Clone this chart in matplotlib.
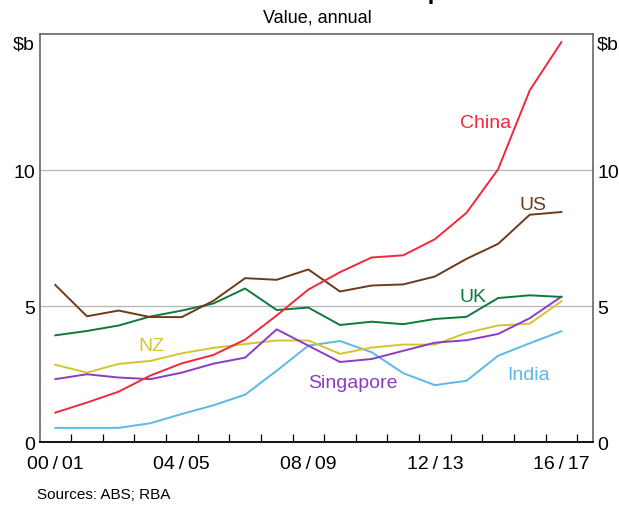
import matplotlib
matplotlib.use("Agg")

import matplotlib.pyplot as plt
from matplotlib.ticker import FixedLocator, NullFormatter

plt.rcParams["font.family"] = ["Liberation Sans", "DejaVu Sans"]

# ------------------------------------------------------------------ #
# Data ($b, financial years 2000/01 - 2016/17)                        #
# ------------------------------------------------------------------ #
years = ["00/01", "01/02", "02/03", "03/04", "04/05", "05/06", "06/07",
         "07/08", "08/09", "09/10", "10/11", "11/12", "12/13", "13/14",
         "14/15", "15/16", "16/17"]

china = [1.09, 1.46, 1.86, 2.45, 2.90, 3.21, 3.77, 4.66, 5.61, 6.25,
         6.79, 6.87, 7.46, 8.43, 10.03, 12.93, 14.70]
us = [5.78, 4.63, 4.84, 4.60, 4.60, 5.20, 6.03, 5.97, 6.35, 5.54,
      5.76, 5.80, 6.09, 6.74, 7.29, 8.36, 8.46]
uk = [3.93, 4.09, 4.29, 4.62, 4.84, 5.10, 5.65, 4.86, 4.95, 4.31,
      4.43, 4.34, 4.53, 4.61, 5.30, 5.40, 5.34]
nz = [2.85, 2.56, 2.88, 2.99, 3.27, 3.47, 3.61, 3.74, 3.74, 3.25,
      3.48, 3.59, 3.59, 4.02, 4.29, 4.36, 5.18]
singapore = [2.32, 2.50, 2.38, 2.32, 2.56, 2.89, 3.11, 4.15, 3.55, 2.95,
             3.06, 3.36, 3.66, 3.75, 3.98, 4.56, 5.35]
india = [0.53, 0.53, 0.53, 0.70, 1.04, 1.36, 1.75, 2.63, 3.55, 3.72,
         3.31, 2.54, 2.10, 2.26, 3.18, 3.64, 4.08]

# series: (values, colour, label, label x, label y)
SERIES = [
    (india, "#5cb8e8", "India", 14.95, 2.5),
    (nz, "#d4c430", "NZ", 3.05, 3.55),
    (singapore, "#8c3cc4", "Singapore", 9.4, 2.2),
    (uk, "#0c7a3a", "UK", 13.2, 5.35),
    (us, "#6e3a1c", "US", 15.1, 8.75),
    (china, "#f0283c", "China", 13.6, 11.75),
]

# ------------------------------------------------------------------ #
# Figure                                                              #
# ------------------------------------------------------------------ #
fig = plt.figure(figsize=(6.19, 5.10), dpi=100)
ax = fig.add_axes([39.5 / 619, 1 - 443.3 / 510, (593 - 39.5) / 619, (443.3 - 35) / 510])

x = list(range(len(years)))
for values, colour, label, lx, ly in SERIES:
    ax.plot(x, values, color=colour, linewidth=1.4, zorder=3)
    ax.text(lx, ly, label, color=colour, fontsize=14, ha="center", va="center")

ax.set_xlim(-0.5, 17.0)
ax.set_ylim(0, 15)

# horizontal gridlines
for level in (5, 10):
    ax.axhline(level, color="#b4b4b4", linewidth=0.9, zorder=1)

# x ticks: labels every 4 years, inward tick marks at year boundaries
ax.set_xticks([0, 4, 8, 12, 16])
ax.set_xticklabels([years[i].replace("/", "\u2009/\u2009") for i in (0, 4, 8, 12, 16)],
                   fontsize=14)
ax.xaxis.set_minor_locator(FixedLocator([i + 0.5 for i in range(17)]))
ax.xaxis.set_minor_formatter(NullFormatter())
ax.tick_params(axis="x", which="major", length=0, pad=9)
ax.tick_params(axis="x", which="minor", direction="in", length=6, width=0.9, color="black")

# y ticks on both sides, no tick marks
ax.set_yticks([0, 5, 10])
ax.set_yticklabels(["0", "5", "10"], fontsize=14)
ax.tick_params(axis="y", which="both", length=0, pad=3, labelright=True, right=True)

for side in ("top", "left", "right"):
    ax.spines[side].set_color("#666666")
    ax.spines[side].set_linewidth(1.2)
ax.spines["bottom"].set_color("black")
ax.spines["bottom"].set_linewidth(1.3)

# unit labels at top of both axes
ax.text(-0.008, 0.997, "$b", transform=ax.transAxes, ha="right", va="top", fontsize=14)
ax.text(1.007, 0.997, "$b", transform=ax.transAxes, ha="left", va="top", fontsize=14)

# title (mostly outside canvas, as in the source) and subtitle
fig.text(0.5 + 9 / 619, 1.0 + 1.0 / 510, "Australia's Education Exports", ha="center",
         va="baseline", fontsize=17, fontweight="bold")
fig.text(317 / 619, 1 - 18 / 510, "Value, annual", ha="center", va="center", fontsize=13)

fig.text(37 / 619, 1 - 495 / 510, "Sources: ABS; RBA", ha="left", va="center", fontsize=11)

plt.savefig("out.png", dpi=100)
plt.close(fig)
